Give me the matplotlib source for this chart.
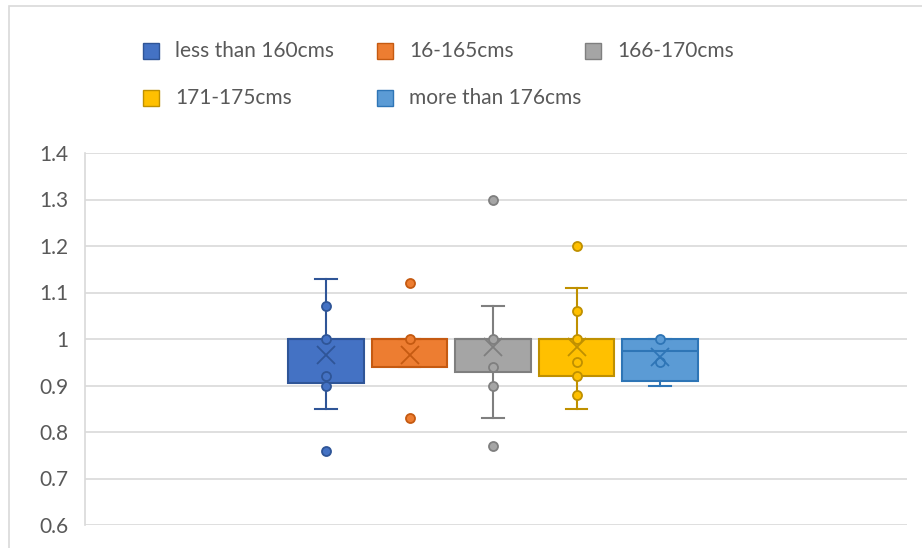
import matplotlib.pyplot as plt
from matplotlib.patches import Rectangle

# height groups
groups = ['less than 160cms', '16-165cms', '166-170cms', '171-175cms', 'more than 176cms']
face_colors = ['#4472C4', '#ED7D31', '#A5A5A5', '#FFC000', '#5B9BD5']
edge_colors = ['#2F5597', '#C55A11', '#7F7F7F', '#BF9000', '#2E75B6']

# box statistics
q1 = [0.905, 0.94, 0.93, 0.92, 0.91]
median = [1.0, 1.0, 1.0, 1.0, 0.975]
q3 = [1.0, 1.0, 1.0, 1.0, 1.0]
whisker_low = [0.85, 0.94, 0.83, 0.85, 0.90]
whisker_high = [1.13, 1.0, 1.07, 1.11, 1.0]
means = [0.966, 0.966, 0.983, 0.983, 0.962]

# inner points and outliers per group
inner_points = [
    [1.07, 1.0, 0.92, 0.90],
    [1.0],
    [1.0, 0.94, 0.90],
    [1.06, 1.0, 0.95, 0.92, 0.88],
    [1.0, 0.95],
]
outliers = [
    [0.76],
    [1.12, 0.83],
    [1.3, 0.77],
    [1.2],
    [],
]

W, H = 922, 548
fig = plt.figure(figsize=(W / 100, H / 100), dpi=100)
plt.rcParams['font.family'] = ['Lato', 'DejaVu Sans']
text_color = '#595959'

# chart border
fig.patches.append(Rectangle((9 / W, -0.1), 1.2, 1 - 6 / H + 0.1, transform=fig.transFigure,
                             fill=False, edgecolor='#D9D9D9', linewidth=1.2))

ax = fig.add_axes([85 / W, 1 - 525 / H, (907 - 85) / W, (525 - 153) / H])

positions = list(range(1, len(groups) + 1))
stats = []
for i in range(len(groups)):
    stats.append({'q1': q1[i], 'med': median[i], 'q3': q3[i],
                  'whislo': whisker_low[i], 'whishi': whisker_high[i],
                  'mean': means[i], 'fliers': []})

for i, st in enumerate(stats):
    ax.bxp([st], positions=[positions[i]], widths=0.9, capwidths=0.26,
           showmeans=False, showfliers=False, patch_artist=True,
           boxprops=dict(facecolor=face_colors[i], edgecolor=edge_colors[i], linewidth=1.5),
           medianprops=dict(color=edge_colors[i], linewidth=1.5),
           whiskerprops=dict(color=edge_colors[i], linewidth=1.5),
           capprops=dict(color=edge_colors[i], linewidth=1.5), zorder=3)
    pts = inner_points[i] + outliers[i]
    ax.plot([positions[i]] * len(pts), pts, 'o', markersize=6.5,
            markerfacecolor=face_colors[i], markeredgecolor=edge_colors[i],
            markeredgewidth=1.3, zorder=4)
    ax.plot([positions[i]], [means[i]], 'x', markersize=13,
            color=edge_colors[i], markeredgewidth=1.3, zorder=4)

ax.set_xlim(3 - 408 / 83.5, 3 + 414 / 83.5)
ax.set_ylim(0.6, 1.4)
ax.set_yticks([0.6, 0.7, 0.8, 0.9, 1.0, 1.1, 1.2, 1.3, 1.4])
ax.set_yticklabels(['0.6', '0.7', '0.8', '0.9', '1', '1.1', '1.2', '1.3', '1.4'])
ax.set_xticks([])
ax.yaxis.grid(True, color='#D9D9D9', linewidth=1.2)
ax.set_axisbelow(True)
ax.tick_params(axis='y', length=0, pad=12, labelsize=15, labelcolor=text_color)
for s in ['top', 'right', 'bottom']:
    ax.spines[s].set_visible(False)
ax.spines['left'].set_color('#D9D9D9')
ax.spines['left'].set_linewidth(1.2)

# legend
legend_pos = [(143, 51), (377, 51), (585, 51), (143, 98), (377, 98)]
for i, name in enumerate(groups):
    x, y = legend_pos[i]
    fig.patches.append(Rectangle((x / W, 1 - (y + 8) / H), 16 / W, 16 / H,
                                 transform=fig.transFigure, facecolor=face_colors[i],
                                 edgecolor=edge_colors[i], linewidth=1))
    fig.text((x + 32) / W, 1 - y / H, name, fontsize=15, color=text_color,
             va='center', ha='left')

fig.savefig('out.png', dpi=100)
